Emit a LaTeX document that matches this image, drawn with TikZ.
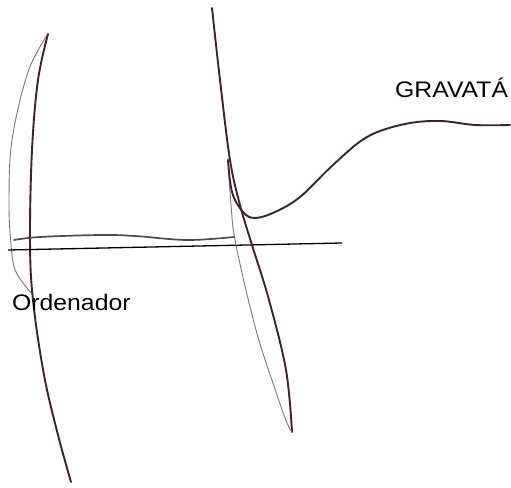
\documentclass[tikz,border=0pt]{standalone}
\usepackage{fontspec}
\setmainfont{Liberation Sans}
\definecolor{ink}{RGB}{58,36,52}
\definecolor{pencil}{RGB}{125,118,122}
\definecolor{midink}{RGB}{85,70,80}
\tikzset{
  dark/.style={draw=ink, line width=1.9pt, line cap=round, line join=round},
  thin/.style={draw=pencil, line width=0.9pt, line cap=round},
  mid/.style={draw=midink, line width=1.7pt, line cap=round},
  rule/.style={draw=black, line width=1.3pt},
  lbl/.style={font=\fontsize{22.5}{24}\selectfont, inner sep=0pt, anchor=base west, xscale=1.1}
}
\begin{document}
\begin{tikzpicture}[x=1pt,y=-1pt]
\useasboundingbox (0,0) rectangle (511,487);
\fill[white] (0,0) rectangle (511,487);
% left thin pencil arc
\draw[thin] plot[smooth, tension=0.6] coordinates {(48,34) (28,72) (12,140) (9,200) (11,245) (16,272) (33,295)};
% left dark stroke
\draw[dark] plot[smooth, tension=0.6] coordinates {(48,34) (38,80) (32,150) (30,240) (33,300) (44,375) (58,435) (71,482)};
% wavy horizontal
\draw[mid] plot[smooth, tension=0.6] coordinates {(14,240) (40,237) (100,235) (135,236) (187,240) (234,237)};
% straight black line
\draw[rule] (8,250) -- (342,243);
% middle tall dark
\draw[dark] plot[smooth, tension=0.6] coordinates {(212,8) (220,80) (230,160) (240,205) (252,245) (269,300) (286,370) (292,432)};
% middle thin
\draw[thin] plot[smooth, tension=0.6] coordinates {(228,158) (231,205) (236,245) (256,330) (277,395) (287,423) (292,432)};
% the curve
\draw[dark] plot[smooth, tension=0.6] coordinates {(228,160) (232,192) (243,212) (255,218) (275,212) (300,197) (333,165) (367,137) (405,124) (440,121) (475,125) (510,125)};
\node[lbl] (gravata) at (395,97) {GRAVATÁ};
\node[lbl] (ordenador) at (12,310) {Ordenador};
\end{tikzpicture}
\end{document}
